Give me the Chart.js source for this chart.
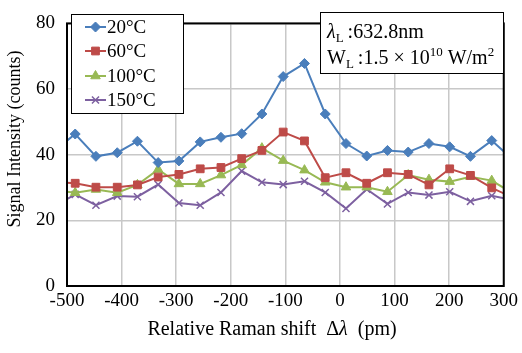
<!DOCTYPE html>
<html>
<head>
<meta charset="utf-8">
<script src="https://cdn.jsdelivr.net/npm/chart.js@4.4.1/dist/chart.umd.min.js"></script>
<style>
  html, body { margin: 0; padding: 0; background: #fff; }
  #wrap { width: 522px; height: 353px; }
</style>
</head>
<body>
<div id="wrap"><canvas id="ramanChart" width="522" height="353"></canvas></div>
<script>
// Relative Raman shift (pm) of each sample point (first and last lie just outside the axis range)
const shiftPm = [-523, -485, -447, -408, -371, -333, -295, -256, -218, -180, -143, -104,
                 -65, -27, 11, 49, 87, 125, 163, 201, 239, 278, 316];

const tempLabels = ["20°C", "60°C", "100°C", "150°C"];

const signal20 = [41.2, 46.3, 39.5, 40.6, 44.1, 37.6, 38.1, 43.9, 45.3, 46.4, 52.4, 63.8,
                  67.8, 52.4, 43.4, 39.6, 41.3, 40.8, 43.4, 42.4, 39.5, 44.3, 38.6];
const signal60 = [31.6, 31.3, 30.1, 30.1, 30.8, 33.2, 34.0, 35.7, 36.1, 38.8, 41.3, 46.9,
                  44.2, 33.0, 34.5, 31.3, 34.5, 34.0, 30.8, 35.7, 33.7, 29.9, 27.0];
const signal100 = [29.2, 28.4, 29.4, 28.4, 30.8, 35.5, 31.1, 31.1, 33.8, 36.9, 42.0, 38.2,
                   35.3, 31.6, 30.1, 30.1, 28.7, 33.8, 32.4, 31.8, 33.3, 32.1, 28.3];
const signal150 = [24.2, 27.9, 24.6, 27.4, 27.2, 30.9, 25.3, 24.6, 28.5, 35.0, 31.6, 30.9,
                   31.9, 28.5, 23.6, 29.5, 25.0, 28.5, 27.7, 28.7, 25.8, 27.5, 26.2];

const xTicks = [-500, -400, -300, -200, -100, 0, 100, 200, 300];
const yTicks = [0, 20, 40, 60, 80];

const serif = "'Liberation Serif', 'Times New Roman', serif";

const colors = ["#4a7ebb", "#be4b48", "#98b954", "#7d60a0"];
const markers = ["rectRot", "rect", "triangle", "crossRot"];
const markerSize = [5, 5.5, 5.5, 5];

function toPoints(values) {
  return values.map((v, i) => ({ x: shiftPm[i], y: v }));
}

const allSignals = [signal20, signal60, signal100, signal150];

const datasets = allSignals.map((values, i) => ({
  label: tempLabels[i],
  data: toPoints(values),
  borderColor: colors[i],
  backgroundColor: colors[i],
  borderWidth: 2,
  pointStyle: markers[i],
  pointRadius: markerSize[i],
  pointBorderColor: colors[i],
  pointBackgroundColor: colors[i],
  pointBorderWidth: i === 3 ? 1.5 : 1,
  tension: 0,
}));

// draws a run of text pieces with sub/superscripts
function drawRich(ctx, x, y, parts) {
  ctx.textAlign = "left";
  ctx.textBaseline = "alphabetic";
  parts.forEach((p) => {
    ctx.font = (p.italic ? "italic " : "") + p.size + "px " + serif;
    ctx.fillText(p.t, x, y + (p.dy || 0));
    x += ctx.measureText(p.t).width;
  });
  return x;
}

function richWidth(ctx, parts) {
  let w = 0;
  parts.forEach((p) => {
    ctx.font = (p.italic ? "italic " : "") + p.size + "px " + serif;
    w += ctx.measureText(p.t).width;
  });
  return w;
}

const decorPlugin = {
  id: "decor",
  afterDraw(chart) {
    const ctx = chart.ctx;
    const area = chart.chartArea;
    ctx.save();

    // plot frame
    ctx.strokeStyle = "#000";
    ctx.lineWidth = 2;
    ctx.strokeRect(area.left, area.top, area.right - area.left, area.bottom - area.top);

    // legend box
    ctx.fillStyle = "#fff";
    ctx.fillRect(71, 14, 112, 99);
    ctx.strokeStyle = "#000";
    ctx.lineWidth = 1;
    ctx.strokeRect(71.5, 14.5, 112, 99);
    const rowY = [27, 51, 76, 100];
    chart.data.datasets.forEach((ds, i) => {
      const y = rowY[i];
      ctx.strokeStyle = ds.borderColor;
      ctx.lineWidth = 2;
      ctx.beginPath();
      ctx.moveTo(85, y);
      ctx.lineTo(106, y);
      ctx.stroke();
      ctx.fillStyle = ds.backgroundColor;
      ctx.lineWidth = ds.pointBorderWidth;
      Chart.helpers.drawPoint(ctx, {
        pointStyle: ds.pointStyle,
        radius: ds.pointRadius,
        rotation: 0,
        borderWidth: ds.pointBorderWidth,
      }, 95.5, y);
      ctx.fillStyle = "#000";
      ctx.font = "19px " + serif;
      ctx.textBaseline = "middle";
      ctx.textAlign = "left";
      ctx.fillText(ds.label, 107, y + 1);
    });

    // laser info box
    ctx.fillStyle = "#fff";
    ctx.fillRect(320, 12, 184, 62);
    ctx.strokeStyle = "#000";
    ctx.lineWidth = 1;
    ctx.strokeRect(320.5, 12.5, 183, 61);
    ctx.fillStyle = "#000";
    drawRich(ctx, 327, 38, [
      { t: "λ", size: 20, italic: true },
      { t: "L", size: 13, dy: 4 },
      { t: "\u2009:632.8nm", size: 20 },
    ]);
    drawRich(ctx, 327, 64, [
      { t: "W", size: 20 },
      { t: "L", size: 13, dy: 4 },
      { t: "\u2009:1.5 × 10", size: 20 },
      { t: "10", size: 13, dy: -8 },
      { t: " W/m", size: 20 },
      { t: "2", size: 13, dy: -8 },
    ]);

    // x axis title
    const xTitle = [
      { t: "Relative Raman shift  Δ", size: 20 },
      { t: "λ", size: 20, italic: true },
      { t: "  (pm)", size: 20 },
    ];
    const w = richWidth(ctx, xTitle);
    drawRich(ctx, 272 - w / 2, 335, xTitle);

    // y axis title
    ctx.save();
    ctx.translate(15, 139);
    ctx.rotate(-Math.PI / 2);
    ctx.font = "18px " + serif;
    ctx.textAlign = "center";
    ctx.textBaseline = "middle";
    ctx.fillText("Signal Intensity (counts)", 0, 0);
    ctx.restore();

    ctx.restore();
  },
};

const ctx = document.getElementById("ramanChart").getContext("2d");

new Chart(ctx, {
  type: "line",
  data: { datasets: datasets },
  options: {
    responsive: false,
    animation: false,
    layout: { padding: { left: 0, right: 17, top: 10, bottom: 0 } },
    scales: {
      x: {
        type: "linear",
        min: xTicks[0],
        max: xTicks[xTicks.length - 1],
        afterBuildTicks: (scale) => {
          scale.ticks = xTicks.map((v) => ({ value: v }));
        },
        afterFit: (scale) => {
          scale.height = 67;
        },
        grid: { color: "#c8c8c8", lineWidth: 1.5, drawTicks: false },
        border: { display: false },
        ticks: {
          color: "#000",
          padding: 4,
          maxRotation: 0,
          font: { family: serif, size: 19 },
        },
      },
      y: {
        min: yTicks[0],
        max: yTicks[yTicks.length - 1],
        afterBuildTicks: (scale) => {
          scale.ticks = yTicks.map((v) => ({ value: v }));
        },
        afterFit: (scale) => {
          scale.width = 67;
        },
        grid: { color: "#c8c8c8", lineWidth: 1.5, drawTicks: false },
        border: { display: false },
        ticks: {
          color: "#000",
          padding: 12,
          font: { family: serif, size: 19 },
        },
      },
    },
    plugins: {
      legend: { display: false },
      tooltip: { enabled: false },
    },
  },
  plugins: [decorPlugin],
});
</script>
</body>
</html>
